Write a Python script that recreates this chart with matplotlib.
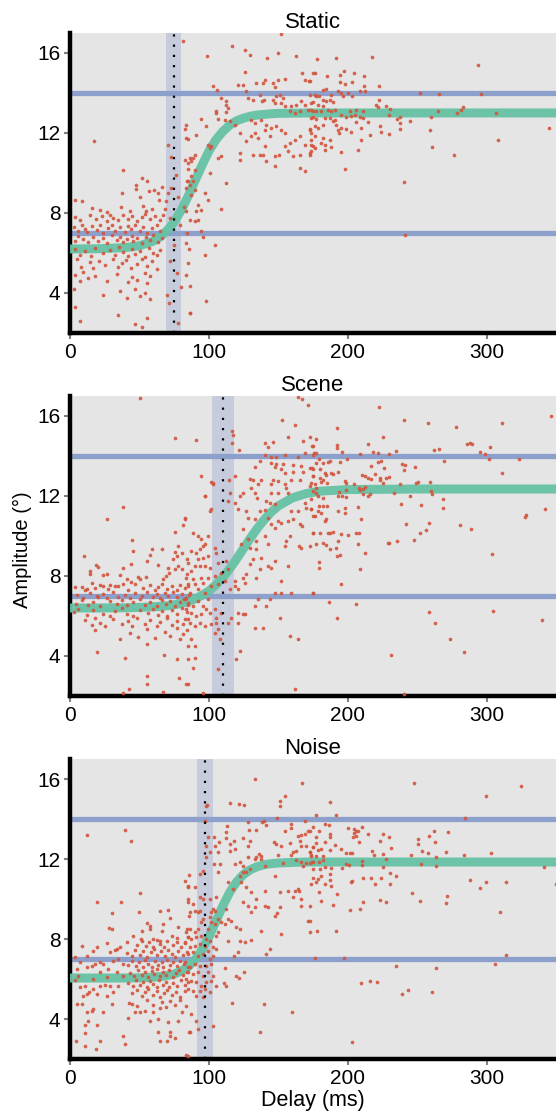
import numpy as np
import matplotlib
matplotlib.use("Agg")
import matplotlib.pyplot as plt

plt.rcParams['font.family'] = ['Liberation Sans', 'DejaVu Sans']

# ---- data ----
panel_titles = ['Static', 'Scene', 'Noise']
ref_levels = [7, 14]
x_ticks = [0, 100, 200, 300]
y_ticks = [4, 8, 12, 16]

# threshold (dotted) and its confidence band, ms
thresholds = [75, 110, 97]
ci_low = [69, 102, 91.5]
ci_high = [80, 118, 103]

# fitted curve, sampled
fit_delay = [0, 20, 40, 50, 60, 65, 70, 75, 80, 85, 90, 95, 100, 105, 110, 115, 120,
             125, 130, 135, 140, 145, 150, 160, 170, 180, 200, 250, 300, 350]
static_fit = [6.20, 6.21, 6.27, 6.36, 6.59, 6.81, 7.13, 7.55, 8.12, 8.83, 9.60, 10.37, 11.08,
              11.65, 12.07, 12.39, 12.61, 12.74, 12.84, 12.90, 12.93, 12.96, 12.98, 12.99,
              13.0, 13.0, 13.0, 13.0, 13.0, 13.0]
scene_fit = [6.40, 6.40, 6.41, 6.43, 6.46, 6.48, 6.51, 6.56, 6.63, 6.72, 6.85, 7.03, 7.25,
             7.55, 7.92, 8.36, 8.85, 9.38, 9.90, 10.39, 10.83, 11.20, 11.50, 11.90, 12.12,
             12.24, 12.32, 12.35, 12.35, 12.35]
noise_fit = [6.05, 6.05, 6.05, 6.06, 6.09, 6.12, 6.17, 6.25, 6.39, 6.61, 6.96, 7.45, 8.10,
             8.87, 9.65, 10.33, 10.86, 11.23, 11.47, 11.62, 11.72, 11.77, 11.80, 11.83, 11.85,
             11.85, 11.85, 11.85, 11.85, 11.85]

# single trials (delay ms, amplitude deg)
static_pts = np.array([
    (81.5, 16.6), (17.5, 11.6), (38.4, 10.15), (51.6, 9.75), (55.6, 9.6), (47.5, 9.4), (47.5, 9.2),
    (66, 9.3), (60.7, 9.15), (63.5, 9.0), (37.4, 9.0), (57, 9.1), (64, 8.65), (50.4, 8.8), (3.4, 8.65),
    (8.4, 8.6), (16, 8.25), (21.6, 8.15), (26.4, 8.05), (37, 8.3), (43, 8.1), (52.8, 8.35), (55, 8.1),
    (58.8, 8.2), (68.3, 8.2), (69.5, 8.6), (70.7, 9.0), (73, 9.25), (84, 9.6), (85, 10.2), (83, 12.2),
    (85, 11.7), (70.5, 11.4), (73, 10.8), (76, 9.9), (78, 8.8), (79, 7.4), (75, 6.4), (72, 5.6),
    (77, 5.0), (80, 4.3), (71, 3.5), (78, 2.5), (84, 7.0), (86, 6.2), (82, 8.3), (87, 8.9),
    (3.6, 7.8), (7.2, 7.65), (14.4, 7.9), (18.7, 7.7), (22.8, 7.85), (26.4, 7.6), (28.8, 7.9),
    (31.2, 7.75), (34.8, 7.65), (38.4, 7.9), (42, 7.7), (44.4, 7.85), (48, 7.6), (51.6, 7.8),
    (54, 7.95), (57.6, 7.7), (61.2, 7.85), (64.8, 7.65), (67.2, 7.9), (72, 7.75),
    (2.9, 7.3), (6, 7.1), (8.4, 7.4), (10.8, 7.2), (12, 7.05), (15.6, 7.35), (19.2, 7.15), (21.6, 7.4),
    (24, 7.0), (27.6, 7.25), (30, 7.4), (32.4, 7.1), (36, 7.3), (39.6, 7.05), (42, 7.35), (43.7, 7.2),
    (46.8, 7.4), (50.4, 7.1), (52.8, 7.3), (55.2, 7.0), (58.8, 7.25), (62.4, 7.4), (64.8, 7.1),
    (3.6, 6.6), (6, 6.85), (9.6, 6.7), (13.2, 6.55), (16.8, 6.8), (20.4, 6.6), (24, 6.75), (26.4, 6.5),
    (30, 6.9), (33.6, 6.65), (36, 6.8), (38.4, 6.55), (40.8, 6.7), (44.4, 6.85), (45.6, 6.6),
    (48.5, 6.75), (51.6, 6.5), (54.7, 6.8), (57.6, 6.65), (60, 6.9), (63.6, 6.55), (66, 6.75),
    (3.6, 6.2), (7.2, 5.9), (10.8, 6.1), (14.9, 5.85), (18, 6.25), (24, 6.0), (28.8, 6.15), (32.4, 5.9),
    (35.5, 6.3), (38.4, 6.05), (42, 5.85), (44.4, 6.2), (46.8, 5.95), (50.4, 6.1), (54, 5.8),
    (57.1, 6.25), (60, 6.0), (62.4, 5.9), (64.8, 6.15),
    (4.8, 5.7), (7.7, 5.3), (14.4, 5.55), (16.8, 5.25), (21.1, 5.6), (25.2, 5.4), (31.2, 5.7),
    (34.8, 5.3), (37.2, 5.5), (40.3, 5.65), (43.7, 5.25), (48, 5.45), (51.6, 5.7), (55.7, 5.35),
    (58.8, 5.6), (62.4, 5.2),
    (3.6, 4.9), (7.2, 4.6), (9.6, 5.05), (13.2, 4.75), (18, 4.85), (26.4, 4.6), (34.1, 4.95), (42, 4.55),
    (44.4, 4.8), (48, 4.65), (54, 5.0), (55.7, 4.5), (57.6, 4.85),
    (2.9, 4.2), (24, 3.9), (36, 4.1), (40.8, 3.75), (46.8, 4.2), (50.4, 3.85), (54, 4.0), (57.6, 3.7),
    (69.6, 3.9), (3.6, 3.3), (7.2, 2.6), (34.8, 2.9), (46.8, 2.45), (51.6, 2.3), (55.2, 2.75), (86.4, 3.0),
    (152.3, 16.97), (117, 16.33), (125.9, 16.17), (98.8, 15.87), (130, 15.9), (150, 16.0), (142.2, 15.75),
    (163.1, 15.83), (125.9, 15.05), (167.2, 15.0), (175.1, 15.0), (169, 14.67), (172, 14.58),
    (140.3, 14.63), (139, 14.5), (150, 14.67), (154.7, 14.7), (121, 14.4), (124.7, 14.4), (134.3, 14.5),
    (146.3, 14.5), (147.5, 14.3), (103.1, 14.37), (106, 14.17), (108.6, 13.75), (112.7, 13.58),
    (112.7, 13.42), (113.9, 13.25), (112.7, 13.03), (127.1, 14.08), (128.3, 13.75), (131.9, 13.67),
    (136.7, 13.92), (138.6, 13.58), (139.6, 13.67), (146.3, 13.67), (148.7, 13.83), (151.1, 13.92),
    (153.5, 13.75), (147.5, 13.5), (152.3, 13.5), (154.7, 13.33), (159.5, 13.33), (163.1, 13.42),
    (166.7, 13.58), (169.1, 13.42), (173.9, 13.5), (158.3, 13.08), (161.9, 13.0), (165.5, 13.08),
    (171.5, 13.17), (175.1, 13.08), (94.7, 12.7), (106.7, 12.7), (111.5, 12.67), (115.1, 12.58),
    (105.5, 13.08), (105, 13.0), (98.3, 12.33), (91.1, 11.92), (83.9, 12.42), (83.9, 11.75),
    (118.7, 12.42), (122.3, 12.0), (127.1, 11.58), (130.7, 11.83), (133.1, 12.0), (135.5, 11.75),
    (140.3, 12.17), (133.1, 12.5), (137.9, 12.67), (130.7, 12.67), (141.5, 12.42), (143.9, 11.83),
    (145.1, 12.25), (148.7, 12.33), (152.3, 12.17), (154.7, 12.0), (140.3, 11.33), (139.1, 10.92),
    (131.9, 10.92), (136.7, 10.92), (122.3, 11.0), (122.3, 10.67), (141.5, 10.58), (147.5, 10.83),
    (150.6, 10.92), (154.7, 11.33), (157.1, 11.08), (160.7, 10.83), (165.5, 10.92), (158.3, 11.5),
    (161.9, 11.67), (165.5, 11.83), (169.1, 11.42), (173.9, 11.67), (175.1, 11.33), (173.9, 11.08),
    (172.7, 10.92), (165.5, 10.25), (169.1, 10.08), (148, 10.37), (109.1, 10.83), (106.7, 10.75),
    (101.9, 11.33), (100.7, 11.25), (99.5, 11.42), (89.9, 10.92), (88.7, 10.75), (86.3, 10.75),
    (87.5, 10.58), (85.1, 10.5), (82.7, 10.67), (89.9, 10.17), (87.5, 9.83), (88.7, 9.58), (85.1, 9.58),
    (86.3, 9.42), (83.9, 9.25), (89.9, 9.17), (97.1, 9.0), (100.7, 10.0), (112.7, 9.5), (92.3, 8.42),
    (91.1, 8.08), (94.7, 8.17), (109.1, 8.2), (99.5, 8.63), (83.9, 8.08), (86.3, 7.67), (89.9, 7.58),
    (92.3, 7.63), (94.2, 7.08), (95.9, 6.8), (104.3, 6.42), (83.9, 6.5), (85.1, 5.5), (97.1, 5.92),
    (83.9, 4.92), (86.3, 4.33), (98.3, 3.62), (86.3, 3.0),
    (172.7, 14.58), (178, 15.7), (191.4, 15.75), (217.6, 15.8), (176.3, 15.0), (185.2, 14.83),
    (194.3, 14.92), (197.4, 15.08), (204.4, 15.0), (211.6, 14.87), (194.3, 14.53), (198.4, 14.47),
    (203.4, 14.53), (211.6, 14.37), (208.7, 14.08), (212.5, 14.08), (222.6, 14.33), (182.3, 14.13),
    (184.2, 14.2), (172.7, 13.92), (176.3, 13.92), (188.3, 13.92), (193.1, 14.08), (195.5, 14.0),
    (196.7, 13.83), (200.3, 14.0), (203.4, 13.83), (251.9, 14.0), (265.8, 13.95), (295.8, 13.95),
    (293.9, 15.38), (177.5, 13.83), (179.4, 13.87), (175.1, 13.53), (182.3, 13.67), (184.7, 13.58),
    (187.6, 13.67), (189.5, 13.53), (178.7, 13.42), (182.3, 13.33), (185.9, 13.17), (188.3, 13.08),
    (190.7, 13.17), (181.1, 13.08), (177.5, 13.08), (173.9, 13.17), (222.6, 13.63), (220.7, 13.42),
    (221.9, 13.3), (227.4, 13.33), (230.3, 13.2), (229.8, 12.92), (202, 13.08), (206.3, 13.17),
    (211.1, 13.08), (202.7, 12.87), (195.5, 12.92), (199.1, 12.8), (175.1, 12.8), (177.5, 12.7),
    (183.5, 12.75), (187.1, 12.75), (190.7, 12.67), (191.4, 12.42), (189.5, 12.58), (182.3, 12.42),
    (176.3, 12.33), (178.7, 12.25), (172.7, 12.2), (173.9, 12.75), (205.3, 12.88), (209.2, 12.8),
    (211.1, 12.75), (214.7, 12.53), (206.3, 12.55), (209.4, 12.25), (216.4, 11.92), (223.1, 12.33),
    (224.3, 12.05), (229.6, 11.95), (235.6, 12.7), (237.5, 12.78), (237.5, 12.5), (237.5, 12.22),
    (244.7, 12.62), (259.8, 12.8), (264.9, 13.08), (278.8, 12.98), (281.9, 13.15), (283.1, 13.28),
    (307.1, 12.98), (259.6, 12.17), (260.8, 11.28), (276.6, 10.92), (308, 11.63), (345, 12.25),
    (172.7, 12.17), (173.9, 12.0), (176.3, 11.83), (182.3, 11.75), (187.1, 11.67), (181.1, 11.5),
    (183.5, 11.42), (173.9, 11.42), (176.3, 11.25), (172.7, 11.0), (183.5, 11.17), (188.3, 11.3),
    (195.5, 11.03), (207.5, 11.13), (209.4, 11.67), (198.4, 10.2), (240.6, 9.55), (241.6, 6.9),
    (193.1, 12.17), (195.5, 12.25), (198.6, 12.22), (202.7, 12.05), (193.8, 12.0),
])

scene_pts = np.array([
    (50.4, 16.92), (75.6, 14.92), (38.4, 11.47), (26.4, 10.87), (82.8, 10.88), (81.6, 10.53),
    (44.4, 9.78), (45.6, 9.25), (75.6, 10.2), (78, 9.5), (75.6, 9.2), (76.8, 9.0), (74.4, 8.83),
    (80.4, 9.17), (84, 8.83), (10.3, 9.0), (58.8, 9.33), (57.6, 9.03), (66, 9.33), (63.6, 8.55),
    (55.7, 8.75), (43.7, 8.58), (18.5, 8.53), (20.4, 8.47), (14.4, 8.25), (14.4, 8.08), (38.4, 8.42),
    (36, 8.03), (24, 8.03), (26.4, 8.08), (15.6, 7.63), (8.4, 7.47), (19.2, 7.0), (70.3, 8.42),
    (71.5, 8.17), (75.6, 8.33), (78, 8.5), (80.4, 8.33), (84, 8.08), (69.1, 8.0), (66.7, 7.83),
    (48.7, 7.97), (50.4, 7.87), (54.7, 7.97), (43.7, 7.7), (38.4, 7.58), (40.8, 7.83), (32.4, 7.5),
    (28.8, 7.53), (23.5, 7.5), (18, 7.42), (12, 7.33),
    (3.6, 7.45), (10.8, 7.3), (21.6, 7.55), (27.6, 7.35), (34.8, 7.5), (42, 7.3), (46.8, 7.6),
    (52.8, 7.4), (57.6, 7.55), (61.2, 7.3), (63.6, 7.45), (66, 7.6), (69.6, 7.35), (73.2, 7.5),
    (76.8, 7.3), (79.2, 7.55), (82.8, 7.4), (85.2, 7.6),
    (4.8, 7.05), (9.6, 6.9), (14.4, 7.15), (20.4, 6.95), (24, 7.1), (26.4, 6.9), (31.2, 7.2),
    (34.8, 6.95), (39.6, 7.05), (43.2, 6.9), (46.8, 7.15), (51.6, 7.0), (55.2, 7.2), (60, 6.95),
    (62.4, 7.1), (64.8, 6.9), (68.4, 7.15), (70.8, 7.0), (74.4, 7.2), (77.3, 6.95), (80.4, 7.1),
    (83.5, 6.9), (85.9, 7.05),
    (4.3, 6.6), (8.4, 6.8), (13.2, 6.55), (16.8, 6.7), (21.6, 6.5), (28.8, 6.75), (33.6, 6.6),
    (37.2, 6.8), (40.8, 6.55), (45.6, 6.7), (50.4, 6.85), (54, 6.55), (57.6, 6.7), (62.4, 6.5),
    (66, 6.8), (69.1, 6.6), (72, 6.75), (75.6, 6.5), (79.2, 6.7), (82.1, 6.85), (85.2, 6.55),
    (2.9, 6.2), (6, 6.35), (12, 6.05), (16.8, 6.3), (24, 6.1), (28.8, 6.0), (32.4, 6.25), (37.2, 6.4),
    (40.8, 6.1), (45.6, 6.0), (50.4, 6.3), (56.4, 6.15), (60, 6.35), (63.6, 6.05), (66, 6.25),
    (69.6, 6.0), (73.2, 6.3), (76.8, 6.1), (80.4, 6.4), (84, 6.2),
    (10.8, 5.8), (15.6, 5.55), (18, 5.9), (21.6, 5.65), (25.2, 5.5), (31.2, 5.85), (37.2, 5.6),
    (42, 5.75), (44.4, 5.5), (48, 5.9), (54, 5.6), (57.6, 5.8), (62.4, 5.5), (64.8, 5.7), (69.6, 5.9),
    (73.2, 5.55), (76.8, 5.75), (81.6, 5.6), (85.2, 5.85),
    (18, 5.3), (36, 4.85), (43.2, 5.15), (49.2, 4.95), (55.7, 5.35), (61.2, 4.9), (68.4, 5.2),
    (72, 5.0), (76.8, 5.4), (79.2, 4.85), (81.6, 5.1), (84, 5.3),
    (19.7, 4.2), (39.6, 3.9), (55.7, 4.6), (67.7, 4.05), (76.8, 3.85), (85.2, 4.5),
    (55.7, 3.0), (55.7, 2.6), (42.7, 2.37), (38.4, 2.17), (66.7, 2.2), (85.2, 2.6), (78.5, 2.88),
    (164.3, 16.97), (167.2, 16.87), (171.5, 16.53), (153, 15.8), (161.9, 15.53), (117, 15.25),
    (117, 14.67), (91.1, 14.78), (121.8, 14.28), (140.3, 14.67), (146.3, 14.7), (142.7, 14.47),
    (157.1, 14.97), (167.9, 14.75), (175.1, 14.5), (140.3, 14.05), (144.6, 13.97), (148.2, 13.97),
    (154.7, 14.03), (164.3, 13.97), (169.1, 14.17), (175.1, 14.03), (133.1, 13.47), (136.7, 13.75),
    (144.6, 13.63), (148.7, 13.58), (153.5, 13.58), (147.5, 13.47), (160.7, 13.53), (166.7, 13.5),
    (152.3, 13.33), (154.7, 13.13), (160.7, 13.2), (167.9, 13.2), (165.5, 12.8), (159.5, 12.8),
    (174.6, 13.42), (175.1, 13.0), (118.7, 13.0), (114.6, 12.8), (115.1, 12.17), (113.9, 11.75),
    (117.5, 15.03), (103.1, 12.58), (101.4, 12.7), (97.1, 12.0), (100.7, 11.25), (118.7, 11.67),
    (122.3, 12.0), (129.5, 12.83), (131.9, 12.8), (135.5, 12.58), (137.9, 12.8), (130.7, 12.42),
    (133.1, 12.17), (124.7, 12.17), (146.3, 12.8), (144.6, 12.58), (149.9, 12.75), (154.7, 12.58),
    (155.9, 12.42), (157.1, 12.17), (149.9, 12.17), (144.6, 12.17), (135, 11.92),
    (121.1, 11.33), (127.1, 11.25), (128.3, 10.92), (133.1, 10.83), (136.7, 11.25), (140.3, 11.3),
    (141.5, 11.75), (143.9, 11.67), (147.5, 11.58), (142.7, 10.92), (145.1, 10.58), (147.5, 10.42),
    (149.9, 10.75), (152.3, 10.67), (157.1, 10.75), (160.7, 10.83), (159.5, 11.25), (164.3, 11.25),
    (165.5, 10.58), (169.1, 11.67), (170.3, 11.42), (173.9, 11.33), (175.1, 11.0), (167.2, 10.5),
    (175.1, 10.17), (158.3, 10.0), (155.9, 9.75),
    (124.7, 10.33), (128.3, 9.83), (123.5, 9.58), (134.3, 9.75), (129.5, 9.42), (134.3, 9.33),
    (140.3, 10.0), (142.7, 9.58), (131.9, 8.83), (137.9, 8.92), (142.7, 8.5), (154.7, 9.5),
    (164.8, 9.5), (166.7, 9.42), (157.1, 8.5), (147.5, 8.75), (145.1, 8.42), (129.5, 8.58),
    (127.1, 8.08), (134.3, 7.92), (124.7, 7.92), (125.9, 7.67), (118.7, 7.5), (121.1, 7.33),
    (136.7, 8.33), (152.3, 7.75),
    (147.5, 7.17), (152.3, 7.17), (159.5, 7.17), (175.1, 7.17), (143.9, 6.83), (135.5, 6.83),
    (133.1, 6.5), (141.5, 6.5), (121.1, 6.17), (124.7, 6.08), (125.9, 6.08), (133.1, 5.42),
    (139.1, 5.42), (151.1, 5.92), (158.3, 5.0), (164.3, 4.83), (122.3, 4.25), (119.9, 3.83),
    (161.9, 2.33),
    (82.7, 10.87), (94.7, 13.0), (97.1, 12.0), (101.9, 11.33), (103.1, 12.67), (88.7, 10.17),
    (92.3, 10.0), (94.7, 9.83), (95.9, 9.5), (87.5, 9.25), (91.1, 9.17), (93.5, 9.33), (97.1, 9.58),
    (99.5, 10.0), (104.3, 9.42), (105.5, 9.17), (92.3, 8.83), (95.9, 8.92), (99.5, 9.0), (89.9, 8.5),
    (85.1, 8.67), (87.5, 8.25), (93.5, 8.5), (97.1, 8.5), (100.7, 8.42), (106.7, 8.67), (112.7, 8.75),
    (113.9, 8.33), (109.1, 8.17), (104.3, 8.0), (99.5, 7.92), (94.7, 7.92), (88.7, 7.83), (83.9, 7.92),
    (85.1, 7.5), (89.9, 7.58), (95.9, 7.67), (101.9, 7.5), (92.3, 7.33), (86.3, 7.17), (97.1, 7.17),
    (106.7, 7.58), (111.5, 7.75), (115.1, 7.33), (118.7, 7.75),
    (82.7, 6.83), (85.1, 6.67), (88.7, 6.5), (92.3, 6.75), (95.9, 6.5), (99.5, 6.83), (83.9, 6.33),
    (87.5, 6.17), (91.1, 6.0), (94.7, 6.08), (98.3, 6.33), (100.7, 6.17), (104.3, 6.33), (105.5, 5.92),
    (109.1, 6.17), (82.7, 5.83), (86.3, 5.67), (89.9, 5.5), (93.5, 5.67), (97.1, 5.5), (101.9, 5.58),
    (105.5, 5.67), (106.7, 5.33), (104.3, 5.17), (87.5, 4.83), (89.9, 4.5), (85.1, 3.83), (89.9, 3.92),
    (88.7, 3.42), (83.9, 2.58), (95.9, 2.17), (106.7, 3.37), (107.9, 4.83), (113.9, 5.67),
    (116.3, 5.92), (121.1, 5.67),
    (222.6, 16.45), (346.2, 16.0), (240.6, 15.78), (257.9, 15.67), (277.8, 15.47), (311.2, 15.63),
    (192.4, 15.38), (172.7, 14.95), (177, 14.83), (174.4, 14.5), (192.4, 14.55), (192.4, 14.42),
    (225.5, 14.95), (214.7, 14.62), (218.3, 14.2), (221.9, 14.17), (229.6, 14.1), (234.6, 14.23),
    (208.7, 14.1), (196.2, 14.2), (177, 14.13), (175.6, 14.17), (262, 14.3), (265.8, 14.37),
    (286, 14.58), (287.9, 14.67), (289.8, 14.58), (295.1, 14.2), (298.7, 14.08), (302.8, 14.47),
    (301.8, 13.87), (323.2, 13.85), (269.7, 13.75), (177.5, 13.67), (179.2, 13.83), (182.3, 13.67),
    (185.9, 13.7), (187.6, 13.75), (194.3, 13.7), (199.6, 13.83), (221.9, 13.7), (224.3, 13.75),
    (216.6, 13.5), (226.5, 13.42), (239.4, 13.58), (241.6, 13.53), (240.6, 13.28), (248.5, 13.45),
    (172.7, 13.42), (175.1, 13.37), (179.9, 13.33), (183.5, 13.17), (188.3, 13.13), (189.5, 13.08),
    (192.9, 13.2), (175.1, 13.0), (179.9, 12.92), (182.3, 12.8), (185.2, 12.67), (184.7, 13.03),
    (181.1, 12.7), (173.9, 12.67), (176.3, 12.58), (172.7, 12.5), (177.5, 12.42), (175.1, 12.25),
    (178.7, 12.0), (182.3, 11.92), (173.9, 11.87), (177.5, 12.17),
    (198.4, 12.75), (199.1, 12.63), (204.6, 12.58), (210.4, 13.03), (212.3, 13.0), (214.7, 12.92),
    (217.1, 12.87), (219.5, 13.08), (223.1, 12.92), (223.6, 12.8), (225.5, 12.67), (227.4, 12.92),
    (229.8, 12.95), (237.5, 12.62), (249, 12.67), (250.7, 12.7), (259.6, 12.7), (211.1, 12.33),
    (208.7, 12.3), (212.3, 12.47), (216.4, 12.08), (211.1, 12.08), (214.7, 12.0), (208.2, 12.42),
    (198.6, 12.3), (193.8, 12.2), (196.2, 12.0), (198.6, 11.97), (193.1, 12.0), (233.4, 12.17),
    (244.7, 12.0), (238.7, 11.58), (259.8, 12.25), (260.8, 12.08), (252.6, 11.53), (268.7, 11.83),
    (268.7, 11.42), (311.2, 13.17), (342.1, 11.37), (328.7, 11.07), (328, 10.97), (281.2, 10.53),
    (288.9, 10.37), (304, 9.12), (242.3, 10.62), (258.4, 10.67), (256.7, 10.3), (251.9, 10.17),
    (247.6, 9.78), (235.6, 9.77), (229.1, 9.63), (229.6, 9.67),
    (207.5, 11.45), (209.4, 10.83), (206.3, 10.17), (208.2, 10.13), (207.5, 9.58), (212.3, 9.17),
    (200.3, 10.05), (195.5, 10.08), (193.1, 9.75), (194.3, 9.05), (192.4, 9.0), (191.4, 9.42),
    (187.1, 9.33), (184.7, 9.53), (182.3, 9.67), (177.5, 9.58), (172.7, 9.5), (187.1, 10.17),
    (189.5, 10.2), (185.9, 10.13), (179.9, 10.17), (175.1, 10.17), (173.9, 11.33), (176.3, 11.0),
    (179.4, 11.5), (182.3, 11.5), (185.2, 11.5), (178.7, 11.25), (181.1, 11.17), (183.5, 10.75),
    (184.7, 10.83), (193.1, 11.25), (198.4, 11.42), (198.4, 11.13), (208.7, 8.33), (179.4, 8.7),
    (179.4, 8.42), (195.5, 7.58), (175.1, 7.17), (186.4, 6.7), (192.4, 5.88), (206.3, 6.62),
    (231.5, 4.07), (240.6, 2.12), (258.6, 6.22), (262.7, 5.63), (274, 4.83), (283.8, 4.2),
    (305, 6.25), (340.2, 5.8),
])

noise_pts = np.array([
    (12.5, 13.22), (39.6, 13.47), (43.7, 12.9), (19.2, 9.87), (36.5, 9.87), (50.4, 10.28), (49.7, 9.37),
    (30.5, 9.28), (64.8, 9.4), (70.8, 9.47), (72, 9.03), (28.3, 8.55), (30.5, 8.5), (55.7, 8.8),
    (57.6, 8.63), (57.6, 8.5), (51.6, 8.38), (67.2, 8.75), (66, 8.42), (78, 8.58), (82.8, 10.92),
    (85.2, 10.58), (85.2, 9.83), (85.9, 9.17), (85.9, 11.2), (45.6, 8.17), (51.1, 8.0), (40.8, 7.87),
    (60, 8.0), (64.8, 7.92), (73.2, 8.17), (76.8, 8.03), (84, 8.5), (85.2, 8.08), (8.4, 7.63),
    (16.8, 7.42), (19.2, 7.58), (26.4, 7.78), (32.4, 7.45), (33.6, 7.5), (36, 7.62), (28.8, 7.33),
    (3.6, 7.12), (12, 7.17), (15.6, 6.67), (18, 6.75), (24, 6.75), (12, 6.58), (3.6, 5.97), (7.2, 5.58),
    (10.8, 5.67), (12, 5.25), (9.6, 5.17), (8.4, 4.75), (4.8, 4.75), (13.9, 5.33), (16.8, 5.5),
    (21.6, 5.67), (25.2, 5.7), (28.8, 5.67), (19.2, 5.25), (26.4, 5.17), (31.2, 5.33), (34.8, 5.67),
    (30, 4.75), (23.5, 4.33), (16.8, 4.5), (15.6, 4.42), (12, 4.33), (10.8, 3.7), (10.8, 3.28),
    (13.2, 3.92), (19.2, 3.7), (4.3, 2.9), (10.8, 2.63), (18.5, 2.5), (21.6, 2.88), (38.4, 3.13),
    (39.6, 2.73), (42, 4.03), (46.8, 4.37), (44.4, 4.75), (57.6, 3.92), (50.4, 4.33), (54, 4.42),
    (60, 4.33), (64.8, 4.53), (63.6, 4.0), (63.6, 3.33), (64.8, 2.92), (69.6, 2.88), (70.8, 3.83),
    (72, 3.33), (72, 3.13), (75.6, 3.03), (78, 3.92), (80.4, 4.33), (85.9, 3.37), (84.7, 2.17),
    (21.6, 6.83), (31.2, 6.92), (34.8, 7.0), (38.4, 6.75), (27.6, 6.5), (33.6, 6.33), (38.4, 6.17),
    (21.6, 6.33), (16.8, 6.0), (26.4, 6.08), (6, 6.17), (7.2, 6.83), (4.8, 6.5),
    (48, 7.7), (51.6, 7.9), (54.7, 7.65), (57.1, 7.85), (59.5, 7.6), (62.4, 7.95), (64.8, 7.75),
    (67.7, 7.6), (70.1, 7.9), (73.9, 7.7), (76.8, 7.85), (79.7, 7.6), (82.8, 7.8),
    (40.8, 7.3), (44.4, 7.15), (46.8, 7.45), (50.4, 7.2), (52.8, 7.4), (55.7, 7.1), (58.1, 7.35),
    (60.5, 7.5), (62.9, 7.2), (65.3, 7.4), (68.4, 7.15), (70.8, 7.45), (73.2, 7.25), (75.6, 7.1),
    (78, 7.4), (81.1, 7.2), (84, 7.35),
    (42, 6.7), (44.4, 6.9), (47.5, 6.65), (49.9, 6.85), (52.3, 6.6), (54, 6.95), (56.4, 6.75),
    (58.8, 6.6), (61.2, 6.9), (63.6, 6.7), (66, 6.85), (67.2, 6.6), (69.6, 6.95), (72, 6.7),
    (74.4, 6.85), (76.8, 6.65), (79.2, 6.9), (82.1, 6.75), (85.2, 6.6),
    (43.2, 6.3), (46.1, 6.15), (49.2, 6.45), (51.6, 6.2), (54, 6.35), (56.4, 6.1), (58.8, 6.4),
    (60.5, 6.25), (62.4, 6.5), (64.8, 6.15), (66.7, 6.35), (69.1, 6.2), (71.5, 6.45), (73.9, 6.1),
    (76.3, 6.3), (78.7, 6.45), (81.1, 6.2), (84, 6.35),
    (42, 5.8), (45.1, 5.65), (47.5, 5.95), (50.4, 5.7), (52.8, 5.85), (55.2, 5.6), (57.6, 5.9),
    (60, 5.75), (62.4, 5.6), (64.3, 5.95), (66.7, 5.7), (69.1, 5.85), (71.5, 5.6), (74.4, 5.8),
    (76.8, 5.65), (79.7, 5.95), (82.8, 5.7), (85.2, 5.85),
    (44.4, 5.3), (48, 5.45), (51.6, 5.15), (54, 5.35), (56.4, 5.5), (59.5, 5.2), (62.4, 5.4),
    (64.8, 5.1), (67.7, 5.3), (70.1, 5.45), (73.2, 5.2), (76.3, 5.35), (79.2, 5.1), (82.8, 5.4),
    (42.7, 4.8), (48.5, 4.65), (55.2, 4.95), (60, 4.7), (66, 4.85), (69.1, 4.6), (72, 4.9),
    (75.6, 4.7), (79.2, 4.95), (83.5, 4.65),
    (133.1, 16.0), (167.2, 15.78), (154.7, 15.13), (151.1, 14.92), (151.1, 14.63), (115.1, 14.8),
    (121.8, 14.75), (125.2, 14.72), (98.8, 14.7), (139.6, 13.92), (138.4, 13.83), (149.2, 14.05),
    (169.1, 13.88), (113.2, 13.67), (128.3, 13.83), (133.8, 13.47), (129, 13.47), (141.5, 13.7),
    (159, 13.75), (159, 13.53), (154.7, 13.42), (164.3, 13.17), (166.7, 13.2), (171.5, 13.42),
    (169.1, 13.25), (175.1, 13.58), (158.3, 12.8), (165.5, 12.92), (166.7, 12.67), (170.3, 12.67),
    (175.1, 12.58), (147, 12.83), (148.7, 12.75), (152.3, 12.67), (149.9, 12.2), (153.5, 11.8),
    (159.5, 12.2), (160.7, 12.33), (163.1, 12.42), (172.7, 12.33), (173.4, 12.17), (175.1, 11.83),
    (170.3, 11.8), (166.7, 11.83), (163.1, 11.97), (167.9, 11.67), (147.5, 11.17),
    (112.7, 13.33), (107.4, 12.87), (104.3, 12.67), (103.8, 13.08), (112, 13.03), (115.1, 12.75),
    (118.2, 12.92), (115.1, 12.42), (118.7, 12.5), (124.7, 13.03), (128.3, 12.67), (129.5, 12.92),
    (133.1, 12.0), (134.3, 12.08), (137.4, 12.17), (136, 12.25), (128.3, 12.08), (129.5, 11.5),
    (137.9, 12.0), (140.3, 11.67), (106.7, 12.33), (107.9, 11.75), (118.7, 11.75), (122.3, 11.83),
    (124.7, 11.67), (127.1, 11.37), (122.3, 11.17), (124.7, 11.33), (113.9, 10.87), (117.5, 10.5),
    (123.5, 10.83), (127.1, 10.58), (130.7, 10.33), (134.3, 10.0), (140.3, 10.42), (124.7, 9.83),
    (128.3, 9.67), (130.7, 9.33), (133.1, 9.58), (140.3, 9.67), (142.7, 9.58), (147.5, 9.17),
    (151.1, 9.58), (151.1, 10.33), (157.1, 10.42), (160.7, 10.08), (161.9, 10.42), (164.3, 10.5),
    (166.7, 10.0), (164.8, 10.42), (166.7, 9.67), (171.5, 8.92), (149.4, 9.3), (152.3, 8.25),
    (143.9, 7.5), (141.5, 7.25), (137.9, 8.42),
    (121.1, 7.33), (118.2, 7.17), (122.3, 7.92), (125.9, 7.83), (130.7, 7.95), (122.8, 8.5),
    (119.9, 8.58), (116.3, 8.92), (113.9, 9.0), (111.5, 8.75), (109.1, 8.83), (106.7, 8.33),
    (105.5, 8.17), (104.3, 9.42), (105.5, 10.08), (106.7, 11.33), (112.7, 9.5), (113.9, 7.92),
    (125.4, 6.37), (121.8, 6.03), (119.9, 6.17), (111.5, 6.53), (111, 5.78), (112, 5.67),
    (116.8, 4.78), (139.8, 4.75), (137, 3.33), (160, 4.37),
    (98.3, 14.67), (97.1, 13.92), (99.5, 13.08), (98.3, 12.67), (98.3, 12.08), (100.7, 12.33),
    (103.8, 11.75), (93.5, 11.25), (95.9, 11.42), (85.1, 10.67), (89.9, 10.58), (93.5, 10.08),
    (95.9, 10.0), (100.7, 10.0), (103.1, 9.5), (101.9, 9.33), (100.7, 9.08), (85.1, 10.0),
    (88.7, 9.75), (89.9, 9.42), (86.3, 9.33), (93.5, 9.42), (92.3, 9.33), (95.9, 9.0), (94.7, 8.83),
    (101.9, 8.83), (106.7, 9.0), (104.3, 8.75), (99.5, 8.5), (92.3, 8.5), (86.3, 8.5), (89.9, 8.33),
    (83.9, 8.33), (85.1, 8.08), (87.5, 8.0), (91.1, 8.08), (94.7, 8.17), (98.3, 8.0), (100.7, 7.92),
    (103.1, 7.58), (105.5, 7.5), (82.7, 7.83), (86.3, 7.58), (89.9, 7.67), (93.5, 7.75), (97.1, 7.67),
    (99.5, 7.42), (88.7, 7.33), (85.1, 7.25), (92.3, 7.17), (95.9, 7.25), (103.1, 7.17), (100.7, 7.0),
    (82.7, 6.83), (86.3, 6.58), (89.9, 6.75), (93.5, 6.67), (98.3, 6.67), (101.9, 6.75), (85.1, 6.33),
    (88.7, 6.25), (92.3, 6.33), (95.9, 6.17), (99.5, 6.33), (103.1, 6.17), (83.9, 6.0), (87.5, 5.92),
    (91.1, 5.83), (94.7, 5.67), (98.3, 5.83), (101.9, 5.92), (105.5, 5.67), (85.1, 5.5), (88.7, 5.42),
    (93.5, 5.42), (97.1, 5.5), (100.7, 5.33), (91.1, 5.17), (95.9, 5.08), (87.5, 4.25), (91.1, 3.92),
    (86.3, 3.33), (92.3, 3.5), (103.1, 3.67), (83.9, 2.2),
    (247.8, 15.78), (325.1, 15.65), (299.9, 15.15), (187.6, 14.83), (191.4, 14.22), (177, 14.22),
    (284.8, 14.05), (183.5, 13.75), (186.4, 13.7), (200.3, 13.53), (204.6, 13.5), (206.3, 13.38),
    (210.4, 13.58), (207.5, 13.38), (204.6, 13.3), (203.9, 13.1), (205.8, 13.17), (208.2, 12.83),
    (214.7, 13.25), (225.5, 13.23), (229.6, 13.1), (223.6, 12.88), (179.4, 13.42), (177, 13.08),
    (187.1, 13.25), (187.6, 13.08), (172.7, 13.42), (177.5, 12.8), (190.7, 12.7), (183.5, 12.83),
    (175.1, 12.58), (181.1, 12.5), (178.7, 12.45), (172.7, 12.37), (177, 12.17), (182.3, 12.17),
    (187.6, 12.45), (173.9, 12.2), (195.5, 12.5), (199.1, 12.28), (201.5, 12.3), (203.4, 12.3),
    (217.6, 12.42), (219, 12.2), (225.5, 12.25), (231.5, 12.53), (227.9, 12.0), (250.7, 13.0),
    (250.7, 12.75), (258.6, 13.17), (262, 13.4), (262.7, 12.83), (272.1, 13.37), (253.8, 12.38),
    (257.9, 12.3), (263.9, 12.12), (270.6, 12.35), (283.8, 12.2), (303, 12.28), (245.9, 12.2),
    (252.6, 11.73), (263.9, 11.63), (210.6, 11.92), (210.6, 11.72), (198.6, 11.75), (201, 11.72),
    (179.4, 11.87), (182.3, 11.97), (174.6, 11.87), (172.7, 11.8), (175.1, 11.5), (179.9, 11.5),
    (183.5, 11.58), (188.3, 11.55), (196.2, 11.53), (225.5, 11.62), (211.1, 11.03), (216.6, 11.03),
    (219.5, 10.77), (224.3, 11.03), (230.3, 11.3), (234.6, 11.17), (230.3, 10.73), (175.1, 11.03),
    (178.7, 11.0), (177.5, 10.83), (181.1, 11.13), (173.9, 10.75), (183.5, 10.75), (187.1, 11.25),
    (187.1, 10.97), (188.3, 10.67), (202.7, 10.87), (203.4, 10.92), (179.4, 10.33), (192.4, 10.25),
    (181.1, 9.92), (189.5, 9.72), (211.1, 9.83), (201.5, 9.45), (209.2, 9.5), (223.1, 9.95),
    (227.4, 9.87), (246.6, 10.3), (251.9, 9.88), (271.8, 10.17), (270.9, 9.82), (287.9, 10.93),
    (299.9, 10.87), (313.8, 10.85), (295.1, 10.53), (310, 9.37), (341.4, 11.62), (349.8, 10.75),
    (172.7, 9.67), (172.7, 8.92), (172.7, 8.37), (178.2, 8.42), (191.4, 8.4), (176.3, 7.03),
    (197.4, 7.03), (234.6, 6.67), (263.9, 6.57), (306.1, 6.73), (313.8, 7.22), (209.4, 5.78),
    (216.4, 5.92), (221.4, 5.87), (239.4, 5.25), (243.5, 5.45), (260.8, 5.33), (203.4, 2.83),
])

panel_pts = [static_pts, scene_pts, noise_pts]
panel_fits = [static_fit, scene_fit, noise_fit]

# ---- style ----
bg = '#e5e5e5'
dot_col = '#d2553d'
fit_col = '#66c2a5'
line_col = '#8da0cb'

fig = plt.figure(figsize=(5.56, 11.17), dpi=100)
bottoms = [0.7019, 0.3769, 0.0519]

axes = []
for i in range(3):
    ax = fig.add_axes([0.1259, bottoms[i], 0.874, 0.2686])
    ax.set_facecolor(bg)
    ax.set_xlim(0, 350)
    ax.set_ylim(2, 17)

    ax.axvspan(ci_low[i], ci_high[i], color=line_col, alpha=0.35, lw=0, zorder=1)
    for lv in ref_levels:
        ax.axhline(lv, color=line_col, lw=3.8, zorder=2)
    ax.plot(fit_delay, panel_fits[i], color=fit_col, lw=6.5, alpha=0.95,
            solid_capstyle='butt', zorder=3)
    pts = panel_pts[i]
    ax.scatter(pts[:, 0], pts[:, 1], s=7, color=dot_col, lw=0, alpha=0.9, zorder=4)
    ax.axvline(thresholds[i], color='black', lw=1.6, ls=(0, (1, 3.6)), zorder=5)

    ax.set_title(panel_titles[i], fontsize=16, pad=1)
    ax.set_xticks(x_ticks)
    ax.set_yticks(y_ticks)
    for s in ['top', 'right']:
        ax.spines[s].set_visible(False)
    for s in ['left', 'bottom']:
        ax.spines[s].set_linewidth(3.2)
        ax.spines[s].set_color('black')
    ax.tick_params(direction='out', length=4, width=1.5, color='#808080',
                   labelsize=15, pad=3)
    axes.append(ax)

axes[2].set_xlabel('Delay (ms)', fontsize=15.5, labelpad=1.5)
fig.text(22 / 556, 1 - 550 / 1117, 'Amplitude (°)', rotation=90,
         ha='center', va='center', fontsize=14.5)

fig.savefig('out.png', dpi=100)
